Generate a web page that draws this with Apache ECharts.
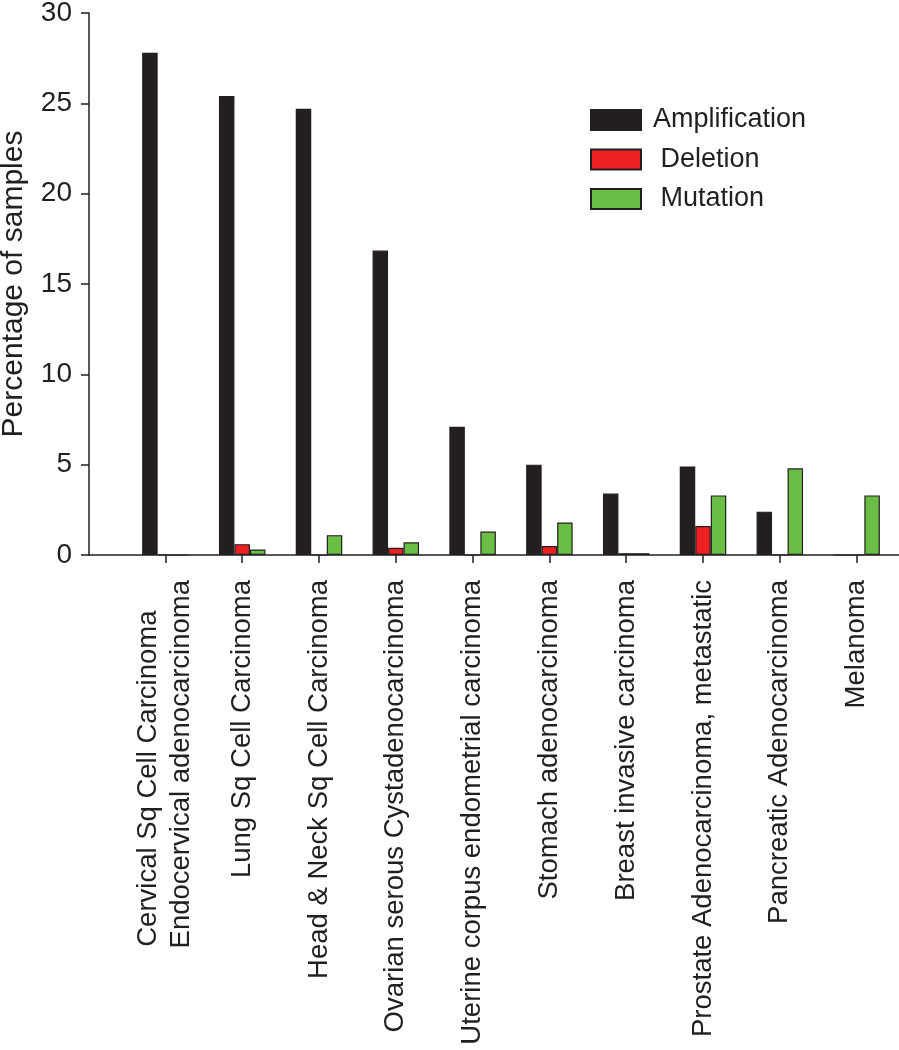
<!DOCTYPE html>
<html>
<head>
<meta charset="utf-8">
<script src="https://cdn.jsdelivr.net/npm/echarts@6/dist/echarts.min.js"></script>
<style>html,body{margin:0;padding:0;background:#fff}#c{width:899px;height:1050px}</style>
</head>
<body>
<div id="c"></div>
<script>
const categories = [
  'Cervical Sq Cell Carcinoma    \nEndocervical adenocarcinoma',
  'Lung Sq Cell Carcinoma',
  'Head & Neck Sq Cell Carcinoma',
  'Ovarian serous Cystadenocarcinoma',
  'Uterine corpus endometrial carcinoma',
  'Stomach adenocarcinoma',
  'Breast invasive carcinoma',
  'Prostate Adenocarcinoma, metastatic',
  'Pancreatic Adenocarcinoma',
  'Melanoma'
];
const amplification = [27.8, 25.4, 24.7, 16.85, 7.1, 5.0, 3.4, 4.9, 2.4, 0];
const deletion      = [0, 0.6, 0, 0.4, 0, 0.5, 0.1, 1.6, 0, 0];
const mutation      = [0, 0.3, 1.1, 0.7, 1.3, 1.8, 0.1, 3.3, 4.8, 3.3];
const yTicks = { min: 0, max: 30, interval: 5 };

const ink = '#231f20';
const font = 'Liberation Sans, Arial, sans-serif';
const chart = echarts.init(document.getElementById('c'));
const barStyle = c => ({ color: c, borderColor: ink, borderWidth: 1.2 });
chart.setOption({
  animation: false,
  backgroundColor: '#fff',
  grid: [
    { left: 89, right: 0, top: 13, bottom: 495, outerBoundsMode: 'none', containLabel: false },
    { left: 127, right: 4, top: 13, bottom: 495, outerBoundsMode: 'none', containLabel: false }
  ],
  legend: {
    orient: 'vertical', left: 585, top: 101.5,
    icon: 'rect',
    itemWidth: 50, itemHeight: 20, itemGap: 12.5,
    textStyle: { fontFamily: font, fontSize: 27, color: ink, padding: [0, 0, 0, 7] },
    formatter: n => n === 'Amplification' ? n : ' ' + n,
    data: ['Amplification', 'Deletion', 'Mutation']
  },
  xAxis: [
    { gridIndex: 0, type: 'value', min: 0, max: 1, axisLabel: { show: false }, axisTick: { show: false }, splitLine: { show: false },
      axisLine: { show: true, lineStyle: { color: ink, width: 1.5 } } },
    { gridIndex: 1, type: 'category', data: categories,
      axisLine: { show: false },
      axisTick: { show: true, alignWithLabel: true, length: 8, lineStyle: { color: ink, width: 1.5 } },
      axisLabel: { rotate: 90, margin: 25, fontFamily: font, fontSize: 27.5, color: ink, lineHeight: 33, interval: 0 } }
  ],
  yAxis: [
    { gridIndex: 0, type: 'value', min: yTicks.min, max: yTicks.max, interval: yTicks.interval,
      name: 'Percentage of samples', nameLocation: 'middle', nameGap: 60,
      nameTextStyle: { fontFamily: font, fontSize: 30, color: ink },
      axisLine: { show: true, lineStyle: { color: ink, width: 1.5 } },
      axisTick: { show: true, length: 8, lineStyle: { color: ink, width: 1.5 } },
      axisLabel: { fontFamily: font, fontSize: 28, color: ink, margin: 17 },
      splitLine: { show: false } },
    { gridIndex: 1, type: 'value', min: yTicks.min, max: yTicks.max, show: false, splitLine: { show: false } }
  ],
  series: [
    { name: 'Amplification', type: 'bar', xAxisIndex: 1, yAxisIndex: 1, data: amplification, barWidth: 15.5, barGap: '0%', itemStyle: barStyle(ink) },
    { name: 'Deletion', type: 'bar', xAxisIndex: 1, yAxisIndex: 1, data: deletion, barWidth: 15.5, barGap: '0%', itemStyle: barStyle('#ed2024') },
    { name: 'Mutation', type: 'bar', xAxisIndex: 1, yAxisIndex: 1, data: mutation, barWidth: 15.5, barGap: '0%', itemStyle: barStyle('#6abd45') }
  ]
});
</script>
</body>
</html>
